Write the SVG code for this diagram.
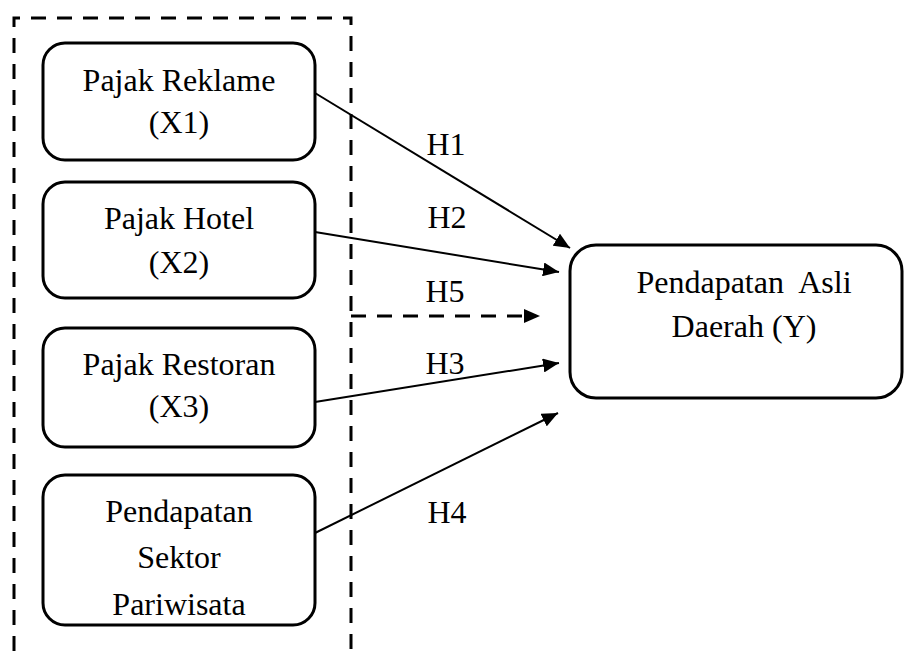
<svg xmlns="http://www.w3.org/2000/svg" width="904" height="651" viewBox="0 0 904 651">
<defs>
<marker id="arr" viewBox="0 0 16 14" refX="16" refY="7" markerWidth="16" markerHeight="14" markerUnits="userSpaceOnUse" orient="auto">
<path d="M0,0 L16,7 L0,14 z" fill="#000"/>
</marker>
<style>
.box{fill:#fff;stroke:#000;stroke-width:3}
.t{font-family:"Liberation Serif","Times New Roman",serif;font-size:32px;fill:#000;text-anchor:middle}
.dash{fill:none;stroke:#000;stroke-width:3;stroke-dasharray:15 11}
.con{fill:none;stroke:#000;stroke-width:2}
</style>
</defs>
<rect width="904" height="651" fill="#fff"/>
<g id="group-frame">
<path class="dash" d="M14,651 L14,18 L351,18 L351,651"/>
</g>
<g id="x1">
<rect class="box" x="43" y="43" width="272" height="117" rx="22"/>
<text class="t" x="179" y="91">Pajak Reklame</text>
<text class="t" x="179" y="133">(X1)</text>
</g>
<g id="x2">
<rect class="box" x="43" y="182" width="272" height="116" rx="22"/>
<text class="t" x="179" y="229">Pajak Hotel</text>
<text class="t" x="179" y="273">(X2)</text>
</g>
<g id="x3">
<rect class="box" x="43" y="328" width="272" height="119" rx="22"/>
<text class="t" x="179" y="375">Pajak Restoran</text>
<text class="t" x="179" y="417">(X3)</text>
</g>
<g id="x4">
<rect class="box" x="43" y="475" width="272" height="150" rx="22"/>
<text class="t" x="179" y="522">Pendapatan</text>
<text class="t" x="179" y="568">Sektor</text>
<text class="t" x="179" y="615">Pariwisata</text>
</g>
<g id="y">
<rect class="box" x="570" y="245" width="332" height="153" rx="26"/>
<text class="t" x="744" y="293" xml:space="preserve">Pendapatan  Asli</text>
<text class="t" x="744" y="337">Daerah (Y)</text>
</g>
<g id="connectors">
<line class="con" x1="315" y1="93" x2="570" y2="248" marker-end="url(#arr)"/>
<line class="con" x1="315" y1="232" x2="559" y2="272" marker-end="url(#arr)"/>
<line class="con" x1="315" y1="402" x2="559" y2="363" marker-end="url(#arr)"/>
<line class="con" x1="315" y1="533" x2="558" y2="413" marker-end="url(#arr)"/>
<line x1="351" y1="316" x2="526" y2="316" stroke="#000" stroke-width="3" stroke-dasharray="15 11"/>
<path d="M524,309 L540,316 L524,323 z" fill="#000"/>
<text class="t" x="446" y="155">H1</text>
<text class="t" x="447" y="228">H2</text>
<text class="t" x="445" y="302">H5</text>
<text class="t" x="445" y="374">H3</text>
<text class="t" x="447" y="523">H4</text>
</g>
</svg>
